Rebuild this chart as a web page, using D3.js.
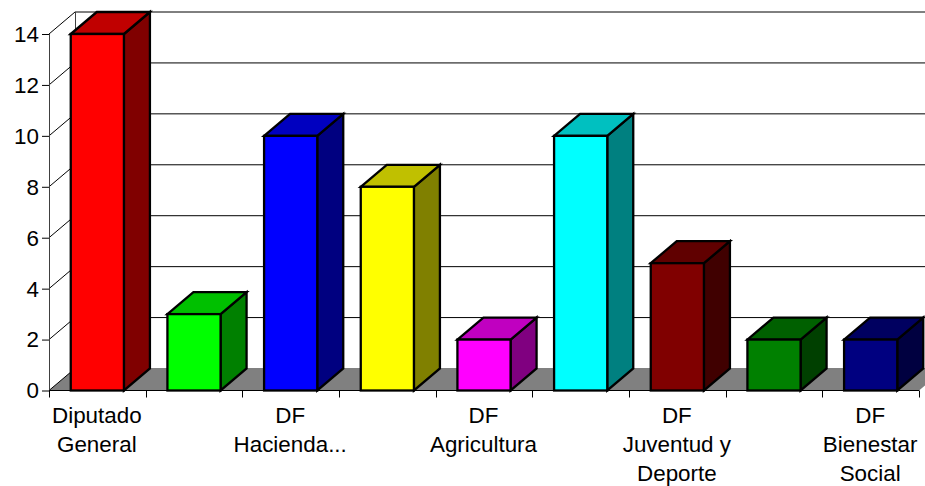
<!DOCTYPE html>
<html><head><meta charset="utf-8">
<script src="https://cdn.jsdelivr.net/npm/d3@7/dist/d3.min.js"></script>
<style>html,body{margin:0;padding:0;background:#fff;overflow:hidden}svg{display:block}text{font-family:"Liberation Sans",Arial,sans-serif;font-size:22.4px;fill:#000}</style>
</head><body><svg id="c" width="925" height="486"></svg>
<script>
const categories=["Diputado General","","DF Hacienda...","","DF Agricultura","","DF Juventud y Deporte","","DF Bienestar Social"];
const labelLines=[["Diputado","General"],[],["DF","Hacienda..."],[],["DF","Agricultura"],[],["DF","Juventud y","Deporte"],[],["DF","Bienestar","Social"]];
const values=[14,3,10,8,2,10,5,2,2];
const frontColors=["#ff0000","#00ff00","#0000ff","#ffff00","#ff00ff","#00ffff","#800000","#008000","#000080"];
const topColors=["#c00000","#00c000","#0000c0","#c0c000","#c000c0","#00c0c0","#600000","#006000","#000060"];
const sideColors=["#800000","#008000","#000080","#808000","#800080","#008080","#400000","#004000","#000040"];
const yTicks=[0,2,4,6,8,10,12,14];

const dx=26,dy=22,left=49,right=919,base=390.5,top14=34;
const svg=d3.select("#c");
const x=d3.scaleBand().domain(d3.range(values.length)).range([left,right]).paddingInner(0.45).paddingOuter(0.225);
const y=d3.scaleLinear().domain([0,14]).range([base,top14]);
const pts=a=>a.map(p=>p.join(",")).join(" ");

// floor
svg.append("polygon").attr("points",pts([[left,base],[left+dx,base-dy],[right+dx,base-dy],[right,base]])).attr("fill","#808080");
// back wall gridlines
svg.append("g").selectAll("line").data(yTicks).join("line")
  .attr("x1",left+dx).attr("x2",right+dx).attr("y1",d=>y(d)-dy).attr("y2",d=>y(d)-dy)
  .attr("stroke",d=>d===0?"#808080":"#000").attr("stroke-width",1);
// side wall gridlines
svg.append("g").selectAll("line").data(yTicks).join("line")
  .attr("x1",left).attr("x2",left+dx).attr("y1",d=>y(d)).attr("y2",d=>y(d)-dy)
  .attr("stroke","#000").attr("stroke-width",1);
svg.append("line").attr("x1",left+dx+.5).attr("x2",left+dx+.5).attr("y1",y(14)-dy).attr("y2",y(0)-dy).attr("stroke","#404040");
// left axis
const yAxis=svg.append("g").attr("transform",`translate(${left},0)`).call(d3.axisLeft(y).tickValues(yTicks).tickSize(7).tickPadding(3).tickFormat(d3.format("d")));
yAxis.selectAll("path").attr("d",`M0.5,${top14}V${base}`).attr("stroke","#404040").attr("fill","none");
yAxis.selectAll("line").attr("stroke","#000");
yAxis.selectAll("text").attr("dy","0.33em");
// bottom axis
const tickScale=d3.scaleLinear().domain([0,values.length]).range([left,right]);
const g=svg.append("g");
g.append("line").attr("x1",left).attr("x2",right).attr("y1",base).attr("y2",base).attr("stroke","#000");
g.selectAll(".t").data(d3.range(values.length+1)).join("line").attr("class","t")
  .attr("x1",d=>Math.round(tickScale(d))+.5).attr("x2",d=>Math.round(tickScale(d))+.5).attr("y1",base).attr("y2",base+7).attr("stroke","#000");
// bars
const bars=svg.append("g").selectAll("g").data(values).join("g").attr("stroke","#000").attr("stroke-width",2.3).attr("stroke-linejoin","miter");
bars.append("polygon").attr("fill",(d,i)=>sideColors[i]).attr("points",(d,i)=>{const r=x(i)+x.bandwidth();return pts([[r,y(d)],[r+dx,y(d)-dy],[r+dx,base-dy],[r,base]]);});
bars.append("polygon").attr("fill",(d,i)=>topColors[i]).attr("points",(d,i)=>{const l=x(i),r=l+x.bandwidth();return pts([[l,y(d)],[l+dx,y(d)-dy],[r+dx,y(d)-dy],[r,y(d)]]);});
bars.append("rect").attr("fill",(d,i)=>frontColors[i]).attr("x",(d,i)=>x(i)).attr("y",d=>y(d)).attr("width",x.bandwidth()).attr("height",d=>base-y(d));
// category labels
svg.append("g").selectAll("text").data(labelLines).join("text").attr("text-anchor","middle")
  .attr("transform",(d,i)=>`translate(${x(i)+x.bandwidth()/2-0.5},0)`)
  .selectAll("tspan").data(d=>d).join("tspan").attr("x",0).attr("y",(d,i)=>423+i*29).text(d=>d);
</script></body></html>
